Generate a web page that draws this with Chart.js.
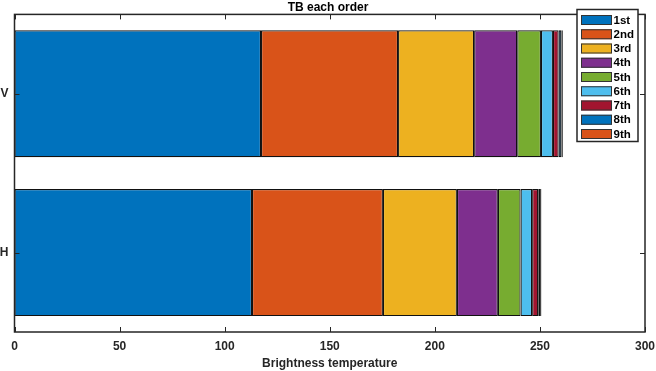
<!DOCTYPE html>
<html>
<head>
<meta charset="utf-8">
<script src="https://cdn.jsdelivr.net/npm/chart.js@4.4.1/dist/chart.umd.min.js"></script>
<style>
  html, body { margin: 0; padding: 0; background: #fff; }
  #wrap { width: 656px; height: 371px; }
</style>
</head>
<body>
<div id="wrap"><canvas id="tbChart"></canvas></div>
<script>
const categories = ["V", "H"];
const orderLabels = ["1st", "2nd", "3rd", "4th", "5th", "6th", "7th", "8th", "9th"];
const vValues = [117.3, 65.2, 36.2, 20.5, 11.3, 5.7, 2.7, 1.3, 0.7];
const hValues = [113.0, 62.3, 35.2, 19.5, 10.8, 5.5, 2.9, 0.9, 0.6];
const orderColors = ["#0072BD", "#D95319", "#EDB120", "#7E2F8E", "#77AC30", "#4DBEEE", "#A2142F", "#0072BD", "#D95319"];
const xMin = 0;
const xMax = 300;
const xStep = 50;

const axisColor = "#262626";
const fontFamily = "'Liberation Sans', Arial, sans-serif";

const datasets = orderLabels.map((label, i) => ({
  label: label,
  data: [vValues[i], hValues[i]],
  backgroundColor: orderColors[i],
  borderColor: "#111",
  borderWidth: 1.2,
  borderSkipped: false,
  barPercentage: 0.8,
  categoryPercentage: 1
}));

// box, inward ticks and the legend, drawn the matlab way
const framePlugin = {
  id: "frame",
  afterDatasetsDraw(chart) {
    const ctx = chart.ctx;
    const area = chart.chartArea;
    const xScale = chart.scales.x;
    const yScale = chart.scales.y;
    const tickLen = 5;

    ctx.save();
    ctx.strokeStyle = axisColor;
    ctx.lineWidth = 1.5;
    ctx.strokeRect(area.left, area.top, area.right - area.left, area.bottom - area.top);

    ctx.lineWidth = 1;
    ctx.beginPath();
    xScale.ticks.forEach((t) => {
      const px = Math.round(xScale.getPixelForValue(t.value)) + 0.5;
      ctx.moveTo(px, area.bottom);
      ctx.lineTo(px, area.bottom - tickLen);
      ctx.moveTo(px, area.top);
      ctx.lineTo(px, area.top + tickLen);
    });
    categories.forEach((c, i) => {
      const py = Math.round(yScale.getPixelForValue(i)) + 0.5;
      ctx.moveTo(area.left, py);
      ctx.lineTo(area.left + tickLen, py);
      ctx.moveTo(area.right, py);
      ctx.lineTo(area.right - tickLen, py);
    });
    ctx.stroke();

    // legend
    const boxLeft = 577;
    const boxTop = 9.5;
    const boxWidth = 61;
    const rowHeight = 14.25;
    const boxHeight = 132;
    ctx.fillStyle = "#fff";
    ctx.fillRect(boxLeft, boxTop, boxWidth, boxHeight);
    ctx.lineWidth = 1.5;
    ctx.strokeStyle = axisColor;
    ctx.strokeRect(boxLeft, boxTop, boxWidth, boxHeight);

    ctx.font = "bold 11.5px " + fontFamily;
    ctx.textBaseline = "middle";
    ctx.textAlign = "left";
    chart.data.datasets.forEach((ds, i) => {
      const cy = boxTop + 10.5 + i * rowHeight;
      ctx.fillStyle = ds.backgroundColor;
      ctx.fillRect(581, cy - 5, 31, 10);
      ctx.lineWidth = 1;
      ctx.strokeStyle = "#333";
      ctx.strokeRect(581.5, cy - 4.5, 30, 9);
      ctx.fillStyle = "#000";
      ctx.fillText(ds.label, 613.5, cy + 0.5);
    });
    ctx.restore();
  }
};

new Chart(document.getElementById("tbChart"), {
  type: "bar",
  data: {
    labels: categories,
    datasets: datasets
  },
  options: {
    indexAxis: "y",
    responsive: true,
    maintainAspectRatio: false,
    animation: false,
    layout: {
      padding: { top: 0, right: 0, bottom: 0, left: 0 }
    },
    plugins: {
      legend: { display: false },
      tooltip: { enabled: false },
      title: {
        display: true,
        text: "TB each order",
        color: "#000",
        font: { family: fontFamily, size: 12, weight: "bold", lineHeight: 1.2 },
        padding: { top: 0, bottom: 0 }
      }
    },
    scales: {
      x: {
        stacked: true,
        min: xMin,
        max: xMax,
        grid: { display: false, drawTicks: false },
        border: { display: false },
        ticks: {
          stepSize: xStep,
          color: axisColor,
          padding: 7,
          maxRotation: 0,
          font: { family: fontFamily, size: 12, weight: "bold" }
        },
        title: {
          display: true,
          text: "Brightness temperature",
          color: axisColor,
          padding: { top: 2, bottom: 0 },
          font: { family: fontFamily, size: 12, weight: "bold" }
        },
        afterFit(scale) {
          scale.height = 39;
          scale.paddingRight = 11;
        }
      },
      y: {
        stacked: true,
        offset: true,
        grid: { display: false, drawTicks: false },
        border: { display: false },
        ticks: {
          color: axisColor,
          padding: 6,
          font: { family: fontFamily, size: 12, weight: "bold" }
        },
        afterFit(scale) {
          scale.width = 14.5;
        }
      }
    }
  },
  plugins: [framePlugin]
});
</script>
</body>
</html>
